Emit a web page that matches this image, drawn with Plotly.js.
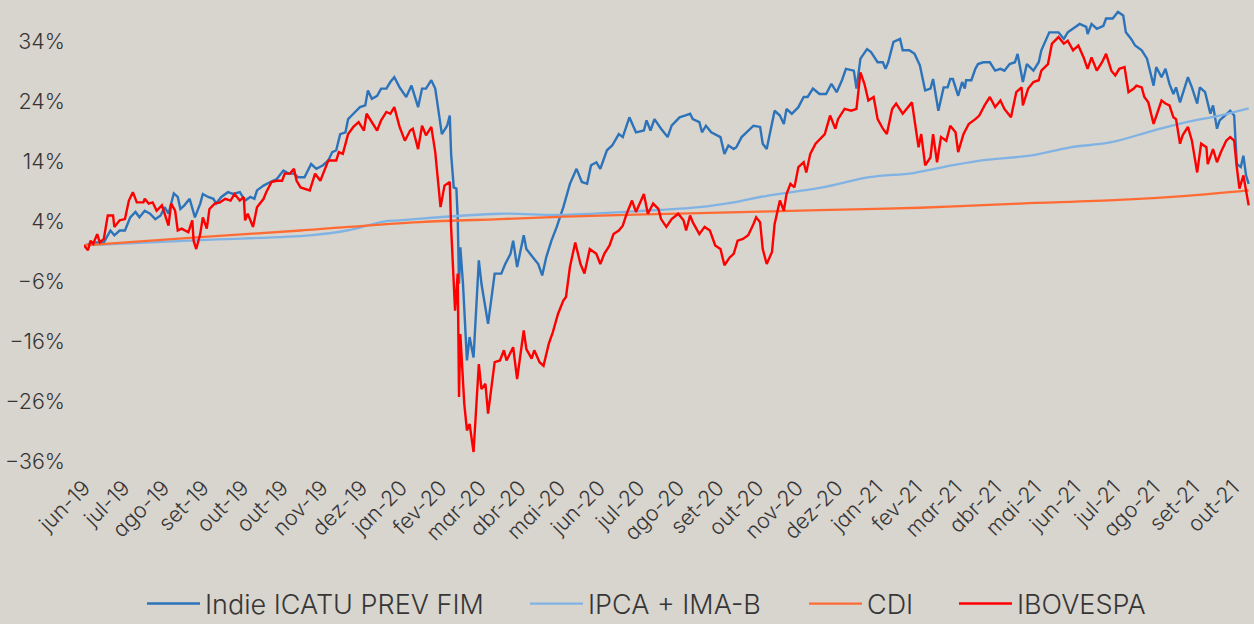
<!DOCTYPE html>
<html>
<head>
<meta charset="utf-8">
<script src="https://cdn.plot.ly/plotly-3.0.1.min.js"></script>
<style>
html,body{margin:0;padding:0;background:#d8d4ce;}
#chart{width:1254px;height:624px;}
#chart text{font-feature-settings:"cv11" 1;}
</style>
</head>
<body>
<div id="chart"></div>
<script>
// Day offsets are counted from 2019-06-03 (first observation)
const startDate = '2019-06-03';

const indieDays = [0,10,15,20,23,27,31,35,39,42,46,50,54,58,61,64,68,71,73,76,80,84,88,90,94,98,100,104,109,113,118,122,126,129,131,136,141,146,151,155,159,162,167,172,176,181,185,188,191,194,198,200,204,209,213,215,218,222,225,229,232,235,
239,244,248,253,256,259,263,266,271,275,277,278,280,282,283,284,285,287,290,292,295,299,301,306,311,316,319,323,325,328,333,335,340,344,347,350,354,358,363,368,373,377,381,384,388,391,396,400,405,408,413,418,424,426,429,432,437,442,445,451,455,459,461,466,468,471,475,482,485,488,492,494,498,502,507,512,514,517,519,523,527,530,532,536,541,545,548,552,557,
562,566,570,574,577,583,585,588,593,596,601,605,607,609,613,618,620,625,629,633,637,641,643,647,651,654,656,658,662,665,667,668,672,675,677,681,686,690,694,697,701,705,707,711,714,719,723,725,729,731,738,742,745,749,754,759,760,763,767,772,774,779,783,787,789,793,796,801,805,810,812,816,819,822,825,827,830,834,836,839,843,845,849,853,855,858,860,864,868,871,873,876,878,880,882];
const indieValues = [0,0.5,0.5,2.5,1.7,2.5,2.5,4.7,5.6,4.7,5.8,5.3,4.4,5.0,6.4,5.3,8.7,8.1,6.1,6.7,7.8,4.7,7.0,8.6,8.1,7.8,7.0,8.1,8.9,8.6,8.9,7.5,8.1,7.8,9.2,10.0,10.6,11.1,12.5,12.0,12.0,11.4,11.4,13.6,12.8,13.4,14.2,15.6,15.9,18.6,18.9,21.1,22.0,23.1,23.4,25.9,24.5,25.0,26.2,26.2,27.3,28.1,
26.4,24.8,26.7,23.1,26.2,26.2,27.6,26.2,18.6,20.0,21.7,15.3,9.7,9.5,4.7,-6.4,-0.3,-6.4,-19.2,-15.3,-18.7,-2.5,-6.4,-13.1,-4.7,-4.7,-3.1,-1.4,0.8,-3.6,1.7,-0.6,-2.0,-3.1,-5.0,-2.0,0.8,3.1,6.4,10.3,12.8,10.6,10.3,13.4,13.9,12.8,15.9,16.7,18.6,18.1,21.4,18.9,19.2,20.9,19.2,21.1,19.5,18.1,20.0,21.4,21.7,22.0,21.1,20.6,18.9,20.0,18.9,18.1,15.3,16.7,16.1,16.4,18.1,18.9,20.0,19.8,17.0,16.1,18.1,22.5,21.7,20.3,22.8,22.0,23.1,24.8,24.8,26.2,25.3,
25.3,27.0,25.6,27.6,29.5,29.2,26.2,31.2,32.8,32.3,30.6,30.6,29.5,30.6,34.0,34.5,32.6,32.6,32.0,30.1,25.9,26.2,27.8,22.5,26.4,26.4,27.8,27.8,25.0,27.3,26.2,27.6,27.6,29.5,30.3,30.6,30.6,29.2,29.5,29.2,30.3,30.6,32.0,27.3,30.3,29.2,30.6,32.6,34.8,35.6,35.6,34.5,35.6,36.2,37.0,36.5,35.3,37.0,36.2,36.7,37.9,37.9,39.0,38.4,35.6,34.5,33.4,32.6,31.2,26.7,29.8,28.1,29.5,27.0,25.3,26.4,23.9,26.7,28.1,26.4,23.7,26.4,25.6,22.0,23.4,19.5,20.9,21.7,22.5,21.7,13.6,13.1,15.0,11.7,10.3];

const iboveDays = [0,3,5,7,10,12,15,18,22,23,27,31,34,37,40,45,46,49,52,55,59,61,64,66,69,71,74,79,82,83,85,88,90,93,95,99,103,107,111,114,118,121,122,124,128,131,133,136,138,142,146,150,152,156,159,161,164,167,171,175,179,182,185,189,191,193,196,200,204,208,212,214,218,222,225,229,232,235,
239,243,247,249,253,256,259,263,266,270,273,277,278,281,283,284,285,288,290,292,295,299,301,304,306,311,315,318,320,325,328,330,333,335,339,341,345,348,352,355,359,363,365,368,372,376,379,383,388,391,394,398,401,405,408,411,415,418,424,427,431,435,437,441,445,450,454,456,459,461,466,470,474,478,482,485,489,492,495,499,503,507,509,512,514,517,521,523,527,530,532,535,538,541,545,547,550,554,
561,565,569,571,576,581,585,588,591,594,598,601,605,608,612,615,620,627,632,634,637,641,643,646,649,653,656,660,662,666,670,675,678,682,686,690,694,697,702,706,710,711,715,719,723,725,730,733,738,742,745,749,753,757,760,763,767,771,774,778,781,784,788,791,795,797,801,803,806,810,812,816,819,822,825,827,830,832,836,839,843,846,850,851,855,858,861,865,868,871,873,875,878,880,882];
const iboveValues = [0.0,-0.8,0.8,0.3,1.9,0.5,1.1,5.0,5.0,3.1,4.2,4.4,7.5,8.9,7.2,7.2,7.8,7.0,7.2,5.8,6.7,5.3,3.3,7.0,5.8,2.5,2.8,2.2,4.2,0.8,-0.6,1.9,4.7,2.8,6.1,7.0,7.2,7.8,7.5,8.6,7.5,8.1,4.2,5.3,3.1,6.4,7.0,7.8,8.9,10.6,10.8,10.8,12.0,12.0,12.8,10.8,9.7,9.5,9.2,12.0,10.8,12.5,14.2,14.2,14.2,15.6,15.3,18.6,19.8,20.6,19.2,22.0,20.6,19.2,20.9,22.3,22.0,23.1,
19.8,17.5,19.2,19.5,16.1,20.0,18.4,19.8,15.6,6.4,10.0,10.6,3.1,-10.9,-4.7,-25.3,-14.8,-26.5,-30.9,-29.8,-34.5,-19.8,-24.0,-23.1,-28.1,-19.5,-19.2,-17.5,-19.2,-17.0,-22.3,-19.2,-14.2,-17.3,-18.9,-17.5,-19.5,-20.1,-16.4,-14.5,-11.4,-9.2,-8.6,-3.6,0.5,-3.1,-4.7,-0.6,-1.4,-3.1,-1.4,0.0,1.9,2.5,3.3,5.3,7.5,5.6,8.6,5.3,7.0,6.1,4.4,3.1,4.4,5.3,4.2,2.5,5.0,3.9,1.9,3.1,2.5,0.0,-0.6,-3.3,-2.0,-1.4,0.8,1.1,1.7,3.6,4.7,3.9,-0.6,-3.1,-1.1,3.6,7.5,5.8,8.6,10.3,9.7,13.1,13.9,12.2,15.3,17.0,
18.6,21.7,19.5,21.1,22.8,22.5,22.8,28.9,27.0,24.2,24.8,21.1,19.5,18.6,22.8,23.7,22.0,23.9,16.4,18.6,13.4,14.7,18.6,13.9,18.1,17.5,20.0,18.9,15.6,18.6,20.3,21.1,21.7,23.4,24.8,23.1,24.2,22.8,21.4,25.6,26.4,23.4,26.2,27.3,27.6,29.2,30.3,33.7,34.8,33.7,34.2,32.6,33.4,31.4,29.5,31.4,29.2,30.6,32.0,29.2,28.4,29.5,29.8,25.6,26.2,26.7,26.4,24.8,23.9,20.3,21.7,24.2,23.7,23.4,21.4,21.1,17.0,18.4,19.8,17.5,12.2,17.0,16.4,13.6,16.1,13.9,15.6,17.5,18.1,17.5,13.1,9.5,11.7,9.5,6.7];

const ipcaDays = [0,88,171,199,227,239,315,360,416,466,492,517,557,595,628,658,683,716,747,777,810,835,860,882];
const ipcaValues = [0,0.9,1.7,2.5,4.0,4.2,5.3,5.1,5.7,6.4,7.2,8.3,9.6,11.4,12.1,13.4,14.3,15.0,16.4,17.2,19.2,20.6,21.7,22.9];

const cdiDays = [0,88,164,254,315,391,466,557,633,709,784,835,882];
const cdiValues = [0,1.4,2.5,3.9,4.4,5.0,5.4,5.9,6.3,7.0,7.6,8.3,9.2];

const tickDates = ['2019-06-03','2019-07-03','2019-08-02','2019-09-01','2019-10-01','2019-10-31','2019-11-30','2019-12-30','2020-01-29','2020-02-28','2020-03-29','2020-04-28','2020-05-28','2020-06-27','2020-07-27','2020-08-26','2020-09-25','2020-10-25','2020-11-24','2020-12-24','2021-01-23','2021-02-22','2021-03-24','2021-04-23','2021-05-23','2021-06-22','2021-07-22','2021-08-21','2021-09-20','2021-10-20'];
const tickLabels = ['jun-19','jul-19','ago-19','set-19','out-19','out-19','nov-19','dez-19','jan-20','fev-20','mar-20','abr-20','mai-20','jun-20','jul-20','ago-20','set-20','out-20','nov-20','dez-20','jan-21','fev-21','mar-21','abr-21','mai-21','jun-21','jul-21','ago-21','set-21','out-21'];

const seriesNames = ['Indie ICATU PREV FIM','IPCA + IMA-B','CDI','IBOVESPA'];

function toDates(days){
  const t0 = Date.parse(startDate + 'T00:00:00Z');
  return days.map(d => new Date(t0 + d*86400000).toISOString().slice(0,10));
}

const FONT = 'Inter, "Open Sans", Lato, sans-serif';
const TXT = '#363636';

const traces = [
  {x: toDates(indieDays), y: indieValues, name: seriesNames[0], mode:'lines', legend:'legend', line:{color:'#2c73ba', width:2.4}},
  {x: toDates(ipcaDays), y: ipcaValues, name: seriesNames[1], mode:'lines', legend:'legend2', line:{color:'#80b3e3', width:2.3, shape:'spline'}},
  {x: toDates(cdiDays), y: cdiValues, name: seriesNames[2], mode:'lines', legend:'legend3', line:{color:'#ff6b33', width:2.3, shape:'spline'}},
  {x: toDates(iboveDays), y: iboveValues, name: seriesNames[3], mode:'lines', legend:'legend4', line:{color:'#ff0000', width:2.4}}
];

function legendAt(xPx){
  return {
    orientation:'h', xref:'container', yref:'container',
    x:xPx/1254, xanchor:'left', y:1-604/624, yanchor:'middle',
    itemwidth:53,
    font:{family:FONT, size:27, color:TXT, weight:300},
    bgcolor:'rgba(0,0,0,0)', borderwidth:0
  };
}

const layout = {
  width:1254, height:624,
  paper_bgcolor:'#d8d4ce', plot_bgcolor:'#d8d4ce',
  margin:{l:84, r:4, t:0, b:163},
  font:{family:FONT, color:TXT, size:21, weight:300},
  showlegend:true,
  hovermode:false,
  xaxis:{
    type:'date',
    range:['2019-06-03','2021-11-02'],
    tickmode:'array', tickvals:tickDates, ticktext:tickLabels,
    tickangle:-45, showgrid:false, zeroline:false, showline:false, ticks:'',
    tickfont:{family:FONT, size:21.5, color:TXT, weight:300},
    ticklabelstandoff:9
  },
  yaxis:{
    range:[-36, 41],
    tickmode:'linear', tick0:-36, dtick:10, ticksuffix:'%',
    showgrid:false, zeroline:false, showline:false, ticks:'',
    tickfont:{family:FONT, size:21.5, color:TXT, weight:300},
    ticklabelstandoff:18
  },
  legend:legendAt(142),
  legend2:legendAt(525),
  legend3:legendAt(804),
  legend4:legendAt(954)
};

Plotly.newPlot('chart', traces, layout, {staticPlot:true, displayModeBar:false});
</script>
</body>
</html>
